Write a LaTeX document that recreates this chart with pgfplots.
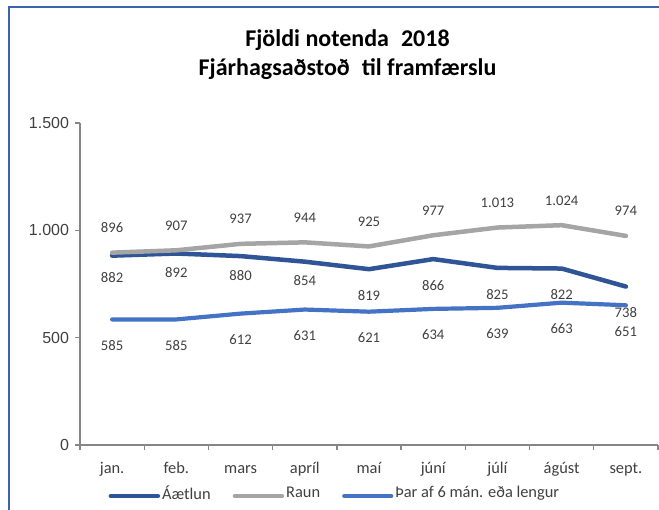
\documentclass[border=0pt]{standalone}
\usepackage{pgfplots}
\usepackage{pgfplotstable}
\pgfplotsset{compat=1.18}
\usepackage{fontspec}
\setmainfont{Carlito}
\newfontfamily\tickfont{Liberation Sans}
\definecolor{aetlun}{RGB}{47,85,151}
\definecolor{raun}{RGB}{165,165,165}
\definecolor{tharaf}{RGB}{68,114,196}
\definecolor{axgray}{RGB}{134,134,134}
\definecolor{framecol}{RGB}{60,100,170}
\definecolor{lbl}{RGB}{64,64,64}

\pgfplotsset{labelplot/.style={draw=none, forget plot,
  nodes near coords={\pgfmathprintnumber[assume math mode=true]{\pgfplotspointmeta}},
  every node near coord/.append style={font=\fontsize{14.67bp}{16bp}\selectfont, text=lbl, anchor=center, yshift=#1}}}

\pgfplotstableread{
x y
0 882
1 892
2 880
3 854
4 819
5 866
6 825
7 822
8 738
}\aetlundata

\pgfplotstableread{
x y
0 896
1 907
2 937
3 944
4 925
5 977
6 1013
7 1024
8 974
}\raundata

\pgfplotstableread{
x y
0 585
1 585
2 612
3 631
4 621
5 634
6 639
7 663
8 651
}\tharafdata

\begin{document}
\begin{tikzpicture}
\useasboundingbox (0,0) rectangle (659bp,510bp);
\draw[framecol, line width=2bp] (9bp,-2bp) -- (9bp,503bp) -- (662bp,503bp);
\node[font=\fontsize{24bp}{28bp}\selectfont\bfseries, anchor=base] at (347.5bp,463bp) {Fjöldi notenda\enspace 2018};
\node[font=\fontsize{24bp}{28bp}\selectfont\bfseries, anchor=base] at (347.5bp,434bp) {Fjárhagsaðstoð\enspace til framfærslu};
\begin{axis}[
  at={(80bp,65bp)}, anchor=south west,
  scale only axis, width=578bp, height=322bp,
  xmin=-0.5, xmax=8.5, ymin=0, ymax=1500,
  clip=false,
  axis x line=bottom, axis y line=left,
  axis line style={axgray, line width=1.3bp, -},
  tick align=outside,
  major tick length=5bp,
  every tick/.style={axgray, line width=1.3bp},
  xtick={-0.5,0.5,...,8.5},
  xticklabels={},
  extra x ticks={0,1,2,3,4,5,6,7,8},
  extra x tick labels={jan.,feb.,mars,apríl,maí,júní,júlí,ágúst,sept.},
  extra x tick style={major tick length=0pt},
  x tick label style={font=\fontsize{16.4bp}{18bp}\selectfont, text=lbl, anchor=base, yshift=-29bp},
  ytick={0,500,1000,1500},
  yticklabels={0,500,1.000,1.500},
  y tick label style={font=\tickfont\fontsize{16bp}{18bp}\selectfont, text=lbl, xshift=-2.5bp},
  /pgf/number format/1000 sep={.},
  legend columns=3,
  legend style={at={(0.441,-0.149)}, anchor=center, draw=none, fill=none,
    font=\fontsize{16.4bp}{18bp}\selectfont, text=lbl,
    /tikz/every even column/.append style={column sep=20bp},
    inner sep=0pt},
  legend image code/.code={\draw[#1, line cap=round] (0bp,-3bp) -- (47bp,-3bp);},
]
\addplot[aetlun, line width=4.5bp, line join=round, line cap=round] table[x=x,y=y] {\aetlundata};
\addlegendentry{Áætlun}
\addplot[raun, line width=4.5bp, line join=round, line cap=round] table[x=x,y=y] {\raundata};
\addlegendentry{Raun}
\addplot[tharaf, line width=4.2bp, line join=round, line cap=round] table[x=x,y=y] {\tharafdata};
\addlegendentry{Þar af 6 mán. eða lengur}
% data labels
\addplot[labelplot=-21.6bp] coordinates {(0,882)};
\addplot[labelplot=-19.2bp] coordinates {(1,892) (2,880) (3,854)};
\addplot[labelplot=-26.4bp] coordinates {(4,819) (5,866) (6,825) (7,822) (8,738)};
\addplot[labelplot=24.7bp] table[x=x,y=y] {\raundata};
\addplot[labelplot=-26bp] table[x=x,y=y] {\tharafdata};
\end{axis}
\end{tikzpicture}
\end{document}
